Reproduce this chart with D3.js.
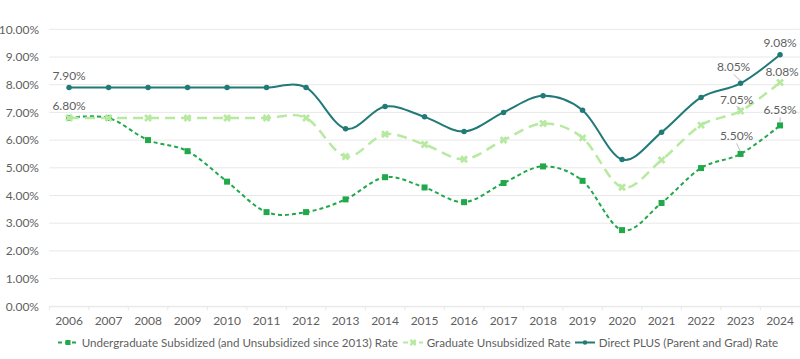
<!DOCTYPE html>
<html>
<head>
<meta charset="utf-8">
<script src="https://cdn.jsdelivr.net/npm/d3@7"></script>
<style>
  html, body { margin: 0; padding: 0; background: #fff; }
  svg { display: block; font-family: Lato, "Open Sans", sans-serif; }
</style>
</head>
<body>
<svg id="chart" width="800" height="359"></svg>
<script>
const years = ["2006","2007","2008","2009","2010","2011","2012","2013","2014","2015","2016","2017","2018","2019","2020","2021","2022","2023","2024"];
const undergradRates = [6.80,6.80,6.00,5.60,4.50,3.40,3.40,3.86,4.66,4.29,3.76,4.45,5.05,4.53,2.75,3.73,4.99,5.50,6.53];
const graduateRates  = [6.80,6.80,6.80,6.80,6.80,6.80,6.80,5.41,6.21,5.84,5.31,6.00,6.60,6.08,4.30,5.28,6.54,7.05,8.08];
const plusRates      = [7.90,7.90,7.90,7.90,7.90,7.90,7.90,6.41,7.21,6.84,6.31,7.00,7.60,7.08,5.30,6.28,7.54,8.05,9.08];
const seriesNames = ["Undergraduate Subsidized (and Unsubsidized since 2013) Rate","Graduate Unsubsidized Rate","Direct PLUS (Parent and Grad) Rate"];
const yTicks = [0,1,2,3,4,5,6,7,8,9,10];
// labelled points: [seriesIndex, yearIndex]
const labelPoints = [[2,0],[1,0],[2,18],[2,17],[1,18],[1,17],[0,18],[0,17]];

const svg = d3.select("#chart");
const margin = {left: 49.3, right: 0, top: 29.3, bottom: 52.5};
const x = d3.scaleBand().domain(years).range([margin.left, 799.8]).padding(0);
const y = d3.scaleLinear().domain([0,10]).range([306.3, margin.top]);
const cx = d => x(d) + x.bandwidth()/2;
const textColor = "#5f5f5f";

// gridlines
svg.append("g").selectAll("line").data(yTicks).join("line")
  .attr("x1", margin.left).attr("x2", 799.8)
  .attr("y1", d => y(d)).attr("y2", d => y(d))
  .attr("stroke", "#e8e8e8").attr("stroke-width", 1);

// y axis labels
svg.append("g").selectAll("text").data(yTicks).join("text")
  .attr("x", 39).attr("y", d => y(d)).attr("dy", "0.35em")
  .attr("text-anchor", "end").attr("font-size", 12).attr("fill", textColor)
  .text(d => d3.format(".2f")(d) + "%");

// x axis
const xAxis = d3.axisBottom(x).tickSize(0).tickSizeOuter(0);
const gx = svg.append("g").attr("transform", `translate(0,${y(0)})`).call(xAxis);
gx.select(".domain").attr("stroke", "#e8e8e8");
gx.selectAll("text").attr("font-size", 12).attr("fill", textColor).attr("dy", "1.35em")
  .attr("font-family", "Lato, sans-serif");
// band-boundary tick marks
svg.append("g").selectAll("line").data(years).join("line")
  .attr("x1", d => x(d)).attr("x2", d => x(d))
  .attr("y1", y(0)).attr("y2", y(0) + 4)
  .attr("stroke", "#e8e8e8");

const series = [
  {values: undergradRates, color: "#21a84a", dash: "4,3", width: 2, marker: "square"},
  {values: graduateRates,  color: "#b7e9a0", dash: "10,6", width: 2.5, marker: "diamond"},
  {values: plusRates,      color: "#217a78", dash: null, width: 2, marker: "circle"}
];

const line = d3.line().x((d,i) => cx(years[i])).y(d => y(d)).curve(d3.curveCardinal.tension(0));

function drawMarker(g, type, color, px, py, s) {
  if (type === "square") {
    g.append("rect").attr("x", px - s/2).attr("y", py - s/2).attr("width", s).attr("height", s).attr("fill", color);
  } else if (type === "diamond") {
    g.append("path").attr("d", d3.symbol().type(d3.symbolCross).size(s*s*0.8)()).attr("transform", `translate(${px},${py}) rotate(45)`).attr("fill", color);
  } else {
    g.append("circle").attr("cx", px).attr("cy", py).attr("r", s/2).attr("fill", color);
  }
}

series.forEach(s => {
  const g = svg.append("g");
  g.append("path").datum(s.values).attr("d", line)
    .attr("fill", "none").attr("stroke", s.color).attr("stroke-width", s.width)
    .attr("stroke-dasharray", s.dash);
  s.values.forEach((v, i) => drawMarker(g, s.marker, s.color, cx(years[i]), y(v), s.marker === "square" ? 6 : (s.marker === "diamond" ? 7 : 5.5)));
});

// labels: dx = label centre offset, dy = baseline offset from the point
const labelOffsets = {
  "2,0":  {dx: 0,  dy: -7,   leader: false},
  "1,0":  {dx: 0,  dy: -7.5, leader: false},
  "2,18": {dx: 0,  dy: -7.5, leader: false},
  "1,18": {dx: 2,  dy: -6,   leader: false},
  "0,18": {dx: 0,  dy: -11,  leader: true},
  "2,17": {dx: -7, dy: -12,  leader: true},
  "1,17": {dx: -4, dy: -7.5, leader: true},
  "0,17": {dx: -4, dy: -13.5,leader: true}
};
const lg = svg.append("g");
labelPoints.forEach(([si, yi]) => {
  const v = series[si].values[yi];
  const px = cx(years[yi]), py = y(v);
  const o = labelOffsets[si + "," + yi];
  const tx = px + o.dx, ty = py + o.dy;
  if (o.leader) {
    lg.append("line").attr("x1", tx).attr("y1", ty + 3).attr("x2", px).attr("y2", py - 2.5)
      .attr("stroke", "#aaa").attr("stroke-width", 0.8);
  }
  lg.append("text").attr("x", tx).attr("y", ty).attr("text-anchor", "middle")
    .attr("font-size", 12).attr("fill", textColor).text(d3.format(".2f")(v) + "%");
});

// legend
const legendX = [58, 403, 575];
const legY = 342.5;
const leg = svg.append("g");
series.forEach((s, i) => {
  const g = leg.append("g").attr("transform", `translate(${legendX[i]},${legY})`);
  g.append("line").attr("x1", 0).attr("x2", 20).attr("y1", 0).attr("y2", 0)
    .attr("stroke", s.color).attr("stroke-width", 2).attr("stroke-dasharray", i === 0 ? "4,3" : (i === 1 ? "5,3" : null));
  drawMarker(g, s.marker, s.color, 10, 0, i === 0 ? 5 : (i === 1 ? 6 : 4.5));
  g.append("text").attr("x", 23.7).attr("y", 0).attr("dy", "0.35em")
    .attr("font-size", 11.6).attr("fill", textColor).text(seriesNames[i]);
});
</script>
</body>
</html>
